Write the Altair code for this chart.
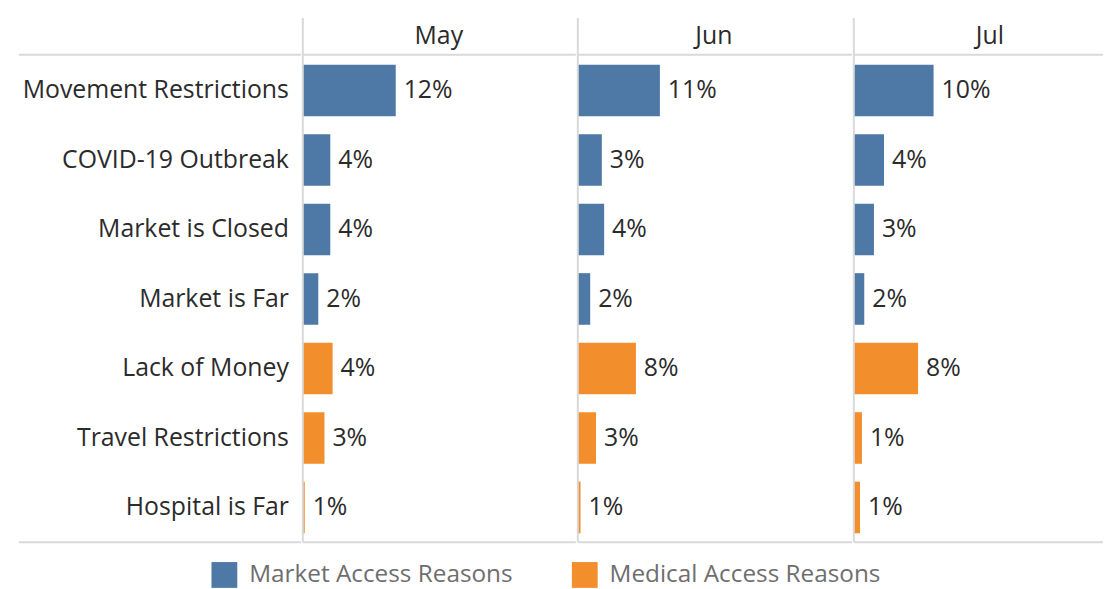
import altair as alt
import pandas as pd

# ---------------- data ----------------
categories = ["Movement Restrictions", "COVID-19 Outbreak", "Market is Closed",
              "Market is Far", "Lack of Money", "Travel Restrictions", "Hospital is Far"]
groups = ["Market Access Reasons"] * 4 + ["Medical Access Reasons"] * 3
group_names = ["Market Access Reasons", "Medical Access Reasons"]
months = ["May", "Jun", "Jul"]

# bar lengths (share, %) as drawn
may_values = [12.0, 3.55, 3.55, 2.0, 3.85, 2.8, 0.25]
jun_values = [10.6, 3.1, 3.4, 1.6, 7.5, 2.35, 0.35]
jul_values = [10.3, 3.9, 2.6, 1.35, 8.3, 1.05, 0.8]
# printed labels
may_labels = ["12%", "4%", "4%", "2%", "4%", "3%", "1%"]
jun_labels = ["11%", "3%", "4%", "2%", "8%", "3%", "1%"]
jul_labels = ["10%", "4%", "3%", "2%", "8%", "1%", "1%"]

# ---------------- style ----------------
FONT = "Open Sans"
TEXT_COLOR = "#2b2b2b"
LINE_COLOR = "#d9d9d9"
BLUE = "#4e79a7"
ORANGE = "#f28e2b"
FS = 25
FW = 500
PANEL_H = 528
ROW_TOP = 37
PX_PER_UNIT = 7.8
LABEL_W = 284
PANEL_WIDTHS = [275, 276, 251]

yscale = alt.Scale(domain=categories, range=[ROW_TOP + 1, PANEL_H],
                   paddingInner=0.257, paddingOuter=0.1285)
Y = alt.Y("category:N", sort=categories, scale=yscale, axis=None)

one = pd.DataFrame({"k": [0]})


def hlines(width):
    top = alt.Chart(one).mark_rule(color=LINE_COLOR, strokeWidth=2).encode(
        y=alt.value(ROW_TOP), x=alt.value(0), x2=alt.value(width))
    bottom = alt.Chart(one).mark_rule(color=LINE_COLOR, strokeWidth=2).encode(
        y=alt.value(PANEL_H), x=alt.value(0), x2=alt.value(width))
    return top + bottom


# label panel
cat_df = pd.DataFrame({"category": categories})
label_panel = alt.layer(
    alt.Chart(cat_df).mark_text(align="right", baseline="middle", font=FONT,
                                fontSize=FS, fontWeight=FW, color=TEXT_COLOR).encode(
        y=Y, x=alt.value(LABEL_W - 12), text="category:N"),
    hlines(LABEL_W),
).properties(width=LABEL_W, height=PANEL_H)


def month_panel(month, values, labels, width):
    df = pd.DataFrame({"category": categories, "group": groups,
                       "value": values, "label": labels})
    xs = alt.X("value:Q", axis=None,
               scale=alt.Scale(domain=[0, width / PX_PER_UNIT], nice=False, zero=True))
    bars = alt.Chart(df).mark_bar(size=52).encode(
        x=xs, y=Y,
        color=alt.Color("group:N",
                        scale=alt.Scale(domain=group_names, range=[BLUE, ORANGE]),
                        legend=alt.Legend(orient="none", legendX=194, legendY=548,
                                          direction="horizontal", title=None,
                                          symbolType="square", symbolSize=676,
                                          symbolStrokeWidth=0,
                                          labelFont=FONT, labelFontSize=24.5,
                                          labelColor="#6e6e6e", labelOffset=12,
                                          labelLimit=600, columnPadding=59)))
    text = alt.Chart(df).mark_text(align="left", baseline="middle", dx=8,
                                   font=FONT, fontSize=FS, fontWeight=FW,
                                   color=TEXT_COLOR).encode(
        x=xs, y=Y, text="label:N")
    hdr = alt.Chart(pd.DataFrame({"month": [month]})).mark_text(
        align="center", baseline="middle", font=FONT, fontSize=FS, fontWeight=FW,
        color=TEXT_COLOR).encode(x=alt.value(137), y=alt.value(18), text="month:N")
    vline = alt.Chart(one).mark_rule(color=LINE_COLOR, strokeWidth=2).encode(
        x=alt.value(0), y=alt.value(0), y2=alt.value(PANEL_H))
    return alt.layer(bars, text, hdr, hlines(width), vline).properties(
        width=width, height=PANEL_H)


panels = [month_panel(m, v, l, w) for m, v, l, w in
          zip(months, [may_values, jun_values, jul_values],
              [may_labels, jun_labels, jul_labels], PANEL_WIDTHS)]

chart = alt.hconcat(label_panel, *panels, spacing=0).properties(
    padding={"left": 18, "top": 15, "right": 0, "bottom": 0}
).configure_view(stroke=None).configure_concat(spacing=0)

chart.save("out.html", embed_options={"renderer": "svg", "actions": False})
